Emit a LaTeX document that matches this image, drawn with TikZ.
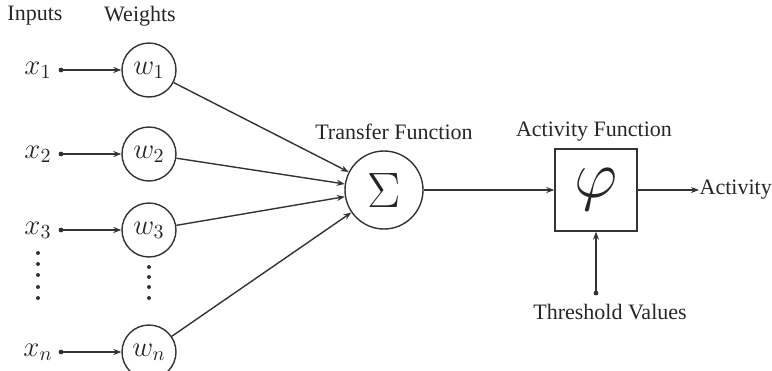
\documentclass[tikz,border=0pt]{standalone}
\usepackage{fontspec}
\setmainfont{Liberation Serif}
\usetikzlibrary{arrows.meta}

\begin{document}
\begin{tikzpicture}[x=0.5pt,y=-0.5pt,line width=0.7pt,black!80,
	every node/.style={font=\fontsize{11}{13}\selectfont,text=black!85},
	>={Stealth[length=4pt,width=3pt]}]
	\useasboundingbox (0,0) rectangle (772,370);
	\begin{scope}[every node/.style={circle,draw,minimum size=27pt,inner sep=0pt,text=black!85}]
	\node (W1) at (149,70) {\Large $w_1$};
	\node (W2) at (149,154) {\Large $w_2$};
	\node (W3) at (149,230) {\Large $w_3$};
	\node (Wn) at (149,352) {\Large $w_n$};
	\node (S) at (384,190) [minimum size=39pt] {\Huge $\Sigma$};
	\end{scope}
	\node (X1) at (38,70) {\Large $x_1$};
	\node (X2) at (38,154) {\Large $x_2$};
	\node (X3) at (38,230) {\Large $x_3$};
	\node (Xn) at (38,352) {\Large $x_n$};
	\coordinate (D1) at (61,70);
	\coordinate (D2) at (61,154);
	\coordinate (D3) at (61,230);
	\coordinate (Dn) at (61,352);
	\foreach \d in {D1,D2,D3,Dn} \fill (\d) circle (1.2pt);
	\draw [->] (D1) -- (W1);
	\draw [->] (D2) -- (W2);
	\draw [->] (D3) -- (W3);
	\draw [->] (Dn) -- (Wn);
	\foreach \y in {253,264,275,287,298} \fill (38,\y) circle (1pt);
	\foreach \y in {267,277,287,298} \fill (149,\y) circle (1pt);
	\draw [->] (W1) -- (S);
	\draw [->] (W2) -- (S);
	\draw [->] (W3) -- (S);
	\draw [->] (Wn) -- (S);
	\node (P) at (596,190) [draw,minimum size=41pt,inner sep=0pt] {\scalebox{1.35}{\Huge $\varphi$}};
	\draw [->] (S) -- (P);
	\node (A) at (699,190) [anchor=west,inner sep=0pt] {Activity};
	\draw [->] (P) -- (A);
	\coordinate (T) at (596,293);
	\fill (T) circle (1.2pt);
	\draw [->] (T) -- (P);
	\node (TV) at (610,312) {Threshold Values};
	\node (TF) at (394,132) {Transfer Function};
	\node (AF) at (594,132) {Activity Function};
	\node (IN) at (35,16) {Inputs};
	\node (WE) at (140,16) {Weights};
\end{tikzpicture}
\end{document}
